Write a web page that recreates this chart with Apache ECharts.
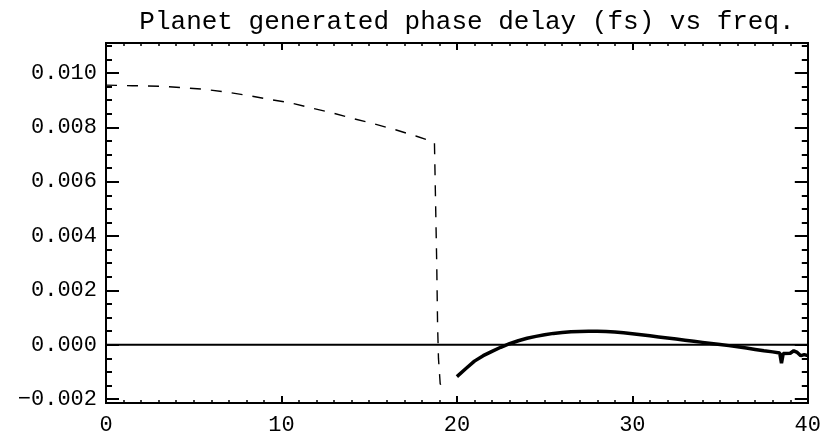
<!DOCTYPE html>
<html><head><meta charset="utf-8">
<script src="https://cdn.jsdelivr.net/npm/echarts@6/dist/echarts.min.js"></script>
<style>html,body{margin:0;padding:0;background:#fff}#c{width:824px;height:445px}</style>
</head><body><div id="c"></div>
<script>
const titleText = 'Planet generated phase delay (fs) vs freq.';
const xTicks = [0, 10, 20, 30, 40];
const yTicks = [-0.002, 0, 0.002, 0.004, 0.006, 0.008, 0.010];
const yMinorTicks = [-0.0015, -0.001, -0.0005, 0.0005, 0.001, 0.0015, 0.0025, 0.003, 0.0035,
  0.0045, 0.005, 0.0055, 0.0065, 0.007, 0.0075, 0.0085, 0.009, 0.0095, 0.0105, 0.011];

const dashedX = [0, 1.5, 3.1, 4.3, 5.6, 6.8, 8.1, 9.2, 10.5, 11.7, 12.9, 14.1, 15.25, 16.5, 17.7, 18.72, 18.8, 18.85, 18.9, 18.95, 19.05, 19.3, 19.6];
const dashedY = [0.00955, 0.00953, 0.00951, 0.00946, 0.00940, 0.00930, 0.00917, 0.00904, 0.00890, 0.00871, 0.00853, 0.00832, 0.00813, 0.00791, 0.00767, 0.00745, 0.00742, 0.00300, 0.00070, -0.00050, -0.00145, -0.00138, -0.00143];

const solidX = [20.0, 20.5, 21.0, 21.5, 22.0, 22.5, 23.0, 23.5, 24.0, 24.5, 25.0, 25.5, 26.0, 26.5, 27.0, 27.5, 28.0, 28.5, 29.0, 29.5, 30.0, 30.5, 31.0, 31.5, 32.0, 32.5, 33.0, 33.5, 34.0, 34.5, 35.0, 35.5, 36.0, 36.5, 37.0, 37.5, 38.0, 38.4, 38.5, 38.6, 39.0, 39.2, 39.4, 39.6, 39.8, 40.0];
const solidY = [-0.00117, -0.00088, -0.00060, -0.00040, -0.00024, -0.00009, 0.00004, 0.00015, 0.00024, 0.00031, 0.00037, 0.00042, 0.00045, 0.00048, 0.00049, 0.00050, 0.00050, 0.00049, 0.00047, 0.00044, 0.00041, 0.00037, 0.00033, 0.00029, 0.00025, 0.00021, 0.00017, 0.00013, 0.00009, 0.00005, 0.00001, -0.00003, -0.00007, -0.00012, -0.00017, -0.00022, -0.00026, -0.00030, -0.00068, -0.00032, -0.00031, -0.00022, -0.00028, -0.00040, -0.00036, -0.00040];

const zeroX = [0, 40];
const zeroY = [0, 0];

const pair = (xs, ys) => xs.map((x, i) => [x, ys[i]]);
const fmtY = v => (v < -1e-9 ? '\u2212' : '') + Math.abs(v).toFixed(3);
const black = '#000';
const FONT = 'Liberation Mono';

const yMin = -0.00214, yMax = 0.0111;
const yBase = {
  type: 'value', min: yMin, max: yMax,
  splitLine: { show: false },
  axisLine: { show: true, onZero: false, lineStyle: { color: black, width: 2 } }
};
const xBase = {
  type: 'value', min: 0, max: 40, interval: 10,
  splitLine: { show: false },
  axisLine: { show: true, onZero: false, lineStyle: { color: black, width: 2 } },
  axisTick: { show: true, inside: true, length: 7, lineStyle: { color: black, width: 2 } },
  minorTick: { show: true, splitNumber: 10, length: 3, lineStyle: { color: black, width: 1.5 } },
  minorSplitLine: { show: false }
};

const chart = echarts.init(document.getElementById('c'), null, { renderer: 'canvas' });
chart.setOption({
  animation: false,
  backgroundColor: '#fff',
  graphic: [{
    type: 'text', x: 467, y: 9,
    style: { text: titleText, fontFamily: FONT, fontSize: 26, fill: black, align: 'center', verticalAlign: 'top' }
  }],
  grid: { left: 106, right: 8, top: 43, bottom: 42, containLabel: false },
  xAxis: [
    Object.assign({}, xBase, {
      position: 'bottom',
      axisLabel: { show: true, fontFamily: FONT, fontSize: 22, color: black, margin: 11,
        customValues: xTicks, formatter: v => String(v) }
    }),
    Object.assign({}, xBase, { position: 'top', axisLabel: { show: false } })
  ],
  yAxis: [
    Object.assign({}, yBase, {
      position: 'left',
      axisLabel: { show: true, customValues: yTicks, formatter: fmtY, fontFamily: FONT, fontSize: 22, color: black, margin: 9 },
      axisTick: { show: true, inside: true, length: 13, customValues: yTicks, lineStyle: { color: black, width: 2 } }
    }),
    Object.assign({}, yBase, {
      position: 'left',
      axisLabel: { show: false },
      axisTick: { show: true, inside: true, length: 6, customValues: yMinorTicks, lineStyle: { color: black, width: 2 } }
    }),
    Object.assign({}, yBase, {
      position: 'right',
      axisLabel: { show: false },
      axisTick: { show: true, inside: true, length: 13, customValues: yTicks, lineStyle: { color: black, width: 2 } }
    }),
    Object.assign({}, yBase, {
      position: 'right',
      axisLabel: { show: false },
      axisTick: { show: true, inside: true, length: 6, customValues: yMinorTicks, lineStyle: { color: black, width: 2 } }
    })
  ],
  series: [
    { type: 'line', name: 'zero', data: pair(zeroX, zeroY), showSymbol: false, symbol: 'none',
      lineStyle: { color: black, width: 2 }, xAxisIndex: 0, yAxisIndex: 0, silent: true },
    { type: 'line', name: 'dashed', data: pair(dashedX, dashedY), showSymbol: false, symbol: 'none',
      lineStyle: { color: black, width: 1.4, type: [11, 10] }, xAxisIndex: 0, yAxisIndex: 0 },
    { type: 'line', name: 'solid', data: pair(solidX, solidY), showSymbol: false, symbol: 'none',
      lineStyle: { color: black, width: 3.5 }, xAxisIndex: 0, yAxisIndex: 0 }
  ]
});
</script>
</body></html>
